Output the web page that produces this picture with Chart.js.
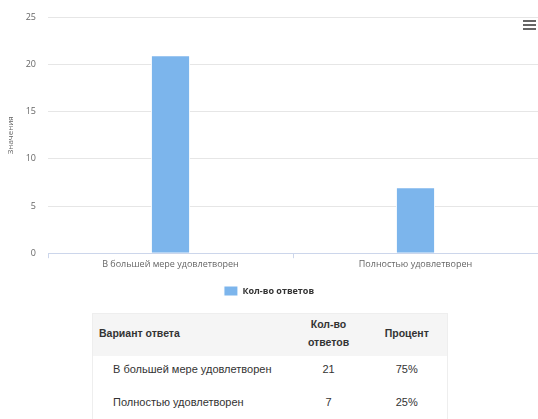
<!DOCTYPE html>
<html>
<head>
<meta charset="utf-8">
<script src="https://cdn.jsdelivr.net/npm/chart.js@4.4.1/dist/chart.umd.min.js"></script>
<style>
  html, body { margin: 0; padding: 0; background: #fff; }
  body { width: 538px; height: 419px; position: relative; overflow: hidden; }
  #wrap { position: absolute; left: 0; top: 0; width: 538px; height: 306px; }
  #menu { position: absolute; left: 523px; top: 20px; width: 13px; }
  #menu span { display: block; height: 2px; background: #666; margin-bottom: 2px; }
  table {
    position: absolute; left: 92px; top: 313px; width: 355px; table-layout: fixed;
    border-collapse: collapse; font-family: "Liberation Sans", Arial, sans-serif;
    font-size: 11px; color: #333; border: 1px solid #eee;
  }
  th { background: #f5f5f5; font-weight: bold; font-size: 10.5px; height: 38px; padding: 0 6px 4px 6px; line-height: 18px; }
  th.first { text-align: left; }
  td { height: 25px; padding-top: 7px; vertical-align: top; text-align: center; white-space: nowrap; }
  td.first { text-align: left; padding-left: 20px; }
</style>
</head>
<body>
<div id="wrap"><canvas id="chart"></canvas></div>
<div id="menu"><span></span><span></span><span></span></div>
<table id="tbl">
  <colgroup><col style="width:198px"><col style="width:76px"><col style="width:81px"></colgroup>
  <thead>
    <tr><th class="first">Вариант ответа</th><th>Кол-во<br>ответов</th><th>Процент</th></tr>
  </thead>
  <tbody></tbody>
</table>
<script>
const categories = ["В большей мере удовлетворен", "Полностью удовлетворен"];
const counts = [21, 7];
const percents = ["75%", "25%"];
const seriesName = "Кол-во ответов";
const yTitle = "Значения";

const tbody = document.querySelector("#tbl tbody");
categories.forEach((c, i) => {
  const tr = document.createElement("tr");
  tr.innerHTML = `<td class="first">${c}</td><td>${counts[i]}</td><td>${percents[i]}</td>`;
  tbody.appendChild(tr);
});

new Chart(document.getElementById("chart"), {
  type: "bar",
  data: {
    labels: categories,
    datasets: [{
      label: seriesName,
      data: counts,
      backgroundColor: "#7cb5ec",
      borderColor: "#ffffff",
      borderWidth: 1,
      barPercentage: 0.16,
      categoryPercentage: 1
    }]
  },
  options: {
    responsive: true,
    maintainAspectRatio: false,
    animation: false,
    layout: { padding: { left: 0, right: 0, top: 11, bottom: 0 } },
    plugins: {
      tooltip: { enabled: false },
      legend: {
        position: "bottom",
        labels: {
          boxWidth: 14, boxHeight: 10, color: "#333", padding: 13,
          font: { family: "Open Sans", size: 9, weight: "bold" }
        }
      }
    },
    scales: {
      x: {
        grid: { drawOnChartArea: false, tickLength: 5, color: "#ccd6eb" },
        border: { color: "#ccd6eb" },
        ticks: { color: "#666", padding: 1, font: { family: "Open Sans", size: 9 } },
        afterFit: s => { s.height += 2; }
      },
      y: {
        min: 0, max: 25,
        ticks: { stepSize: 5, color: "#666", padding: 12, font: { family: "Open Sans", size: 9 } },
        grid: { color: "#e6e6e6", drawTicks: false },
        border: { display: false },
        title: { display: true, text: yTitle, color: "#666", font: { family: "Open Sans", size: 8 }, padding: { top: 6, bottom: 0 } },
        afterFit: s => { s.width = 48; }
      }
    }
  }
});
</script>
</body>
</html>
